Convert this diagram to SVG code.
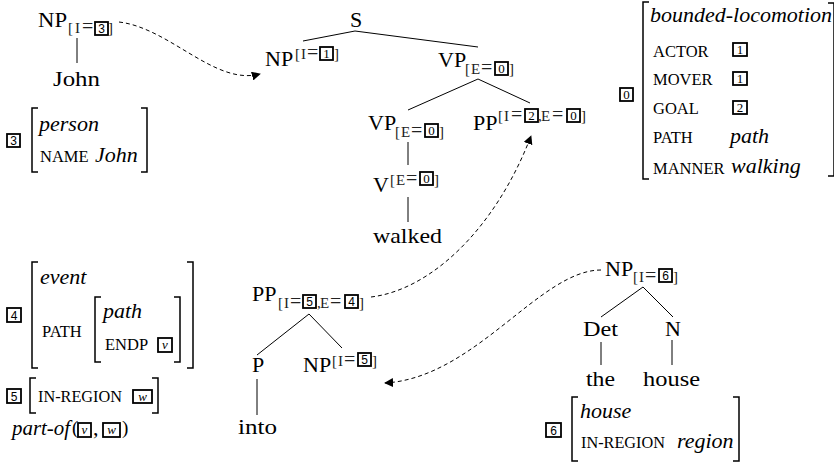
<svg xmlns="http://www.w3.org/2000/svg" width="834" height="462" viewBox="0 0 834 462">
<defs>
<style>
.n { font-family: "Liberation Serif", serif; font-size: 22px; fill: #000; }
.it { font-family: "Liberation Serif", serif; font-size: 22px; font-style: italic; fill: #000; }
.sc { font-family: "Liberation Serif", serif; font-size: 16.5px; fill: #000; }
.f { font-family: "Liberation Serif", serif; font-size: 15px; fill: #222; }
.eq { font-size: 20px; }
.bx { fill: none; stroke: #000; stroke-width: 1.8; }
.bn { font-family: "Liberation Sans", sans-serif; font-size: 12px; text-anchor: middle; fill: #000; }
.bs { font-family: "Liberation Serif", serif; font-size: 13px; text-anchor: middle; fill: #000; }
.bi { font-family: "Liberation Serif", serif; font-size: 13px; font-style: italic; text-anchor: middle; fill: #000; }
.tree { stroke: #000; stroke-width: 1; fill: none; }
.dash { stroke: #000; stroke-width: 1; fill: none; stroke-dasharray: 4 3; marker-end: url(#ah); }
.br { stroke: #000; stroke-width: 1.5; fill: none; }
</style>
<marker id="ah" viewBox="0 0 10 10" refX="9" refY="5" markerWidth="9" markerHeight="9" markerUnits="userSpaceOnUse" orient="auto">
<path d="M0,0 L10,5 L0,10 z" fill="#000"/>
</marker>
</defs>

<g id="connectors">
<line class="tree" x1="77" y1="38" x2="77" y2="63"/>
<line class="tree" x1="355" y1="31" x2="303" y2="41"/>
<line class="tree" x1="355" y1="31" x2="478" y2="47"/>
<line class="tree" x1="478" y1="79" x2="408" y2="110"/>
<line class="tree" x1="478" y1="79" x2="530" y2="103"/>
<line class="tree" x1="408" y1="142" x2="408" y2="165"/>
<line class="tree" x1="408" y1="197" x2="408" y2="222"/>
<line class="tree" x1="309" y1="314" x2="257" y2="355"/>
<line class="tree" x1="309" y1="314" x2="342" y2="348"/>
<line class="tree" x1="257" y1="379" x2="257" y2="415"/>
<line class="tree" x1="643" y1="287" x2="601" y2="317"/>
<line class="tree" x1="643" y1="287" x2="673" y2="317"/>
<line class="tree" x1="601" y1="342" x2="601" y2="365"/>
<line class="tree" x1="672" y1="340" x2="672" y2="365"/>
<path class="dash" d="M119 22 C170 28, 215 86, 260 74"/>
<path class="dash" d="M371 297 C430 290, 495 230, 531 136"/>
<path class="dash" d="M601 270 C540 270, 475 378, 385 383"/>
</g>

<g id="np3">
<text class="n" x="38" y="27" textLength="29" lengthAdjust="spacingAndGlyphs">NP</text>
<text class="f" y="33"><tspan x="68">[</tspan><tspan x="75">I</tspan><tspan x="82" class="eq">=</tspan></text>
<rect class="bx" x="95" y="22" width="13" height="13"/><text class="bn" x="101.5" y="32.8">3</text>
<text class="f" x="108" y="33">]</text>
</g>
<g id="john"><text class="n" x="53" y="86" textLength="47" lengthAdjust="spacingAndGlyphs">John</text></g>

<g id="s"><text class="n" x="350" y="27">S</text></g>
<g id="np1">
<text class="n" x="265" y="66">NP</text>
<text class="f" y="59"><tspan x="295">[</tspan><tspan x="301">I</tspan><tspan x="307" class="eq">=</tspan></text>
<rect class="bx" x="320" y="47" width="13" height="13"/><text class="bs" x="326.5" y="57.8">1</text>
<text class="f" x="334" y="59">]</text>
</g>
<g id="vp0">
<text class="n" x="438" y="67">VP</text>
<text class="f" y="74"><tspan x="465">[</tspan><tspan x="471">E</tspan><tspan x="481" class="eq">=</tspan></text>
<rect class="bx" x="495" y="62" width="13" height="13"/><text class="bs" x="501.5" y="72.8">0</text>
<text class="f" x="509" y="74">]</text>
</g>
<g id="vp1">
<text class="n" x="368" y="130">VP</text>
<text class="f" y="137"><tspan x="395">[</tspan><tspan x="401">E</tspan><tspan x="411" class="eq">=</tspan></text>
<rect class="bx" x="425" y="124" width="13" height="13"/><text class="bs" x="431.5" y="134.8">0</text>
<text class="f" x="439" y="137">]</text>
</g>
<g id="pp0">
<text class="n" x="473" y="130">PP</text>
<text class="f" y="121"><tspan x="498">[</tspan><tspan x="504">I</tspan><tspan x="511" class="eq">=</tspan></text>
<rect class="bx" x="525" y="109" width="13" height="13"/><text class="bs" x="531.5" y="119.8">2</text>
<text class="f" y="121"><tspan x="538">,</tspan><tspan x="541">E</tspan><tspan x="552" class="eq">=</tspan></text>
<rect class="bx" x="567" y="109" width="13" height="13"/><text class="bs" x="573.5" y="119.8">0</text>
<text class="f" x="581" y="121">]</text>
</g>
<g id="v">
<text class="n" x="373" y="192">V</text>
<text class="f" y="185"><tspan x="390">[</tspan><tspan x="396">E</tspan><tspan x="406" class="eq">=</tspan></text>
<rect class="bx" x="420" y="172" width="13" height="13"/><text class="bs" x="426.5" y="182.8">0</text>
<text class="f" x="434" y="185">]</text>
</g>
<g id="walked"><text class="n" x="373" y="243" textLength="69" lengthAdjust="spacingAndGlyphs">walked</text></g>

<g id="pp1">
<text class="n" x="252" y="301">PP</text>
<text class="f" y="308"><tspan x="278">[</tspan><tspan x="284">I</tspan><tspan x="290" class="eq">=</tspan></text>
<rect class="bx" x="303" y="295" width="13" height="13"/><text class="bn" x="309.5" y="305.8">5</text>
<text class="f" y="308"><tspan x="317">,</tspan><tspan x="320">E</tspan><tspan x="330" class="eq">=</tspan></text>
<rect class="bx" x="345" y="295" width="13" height="13"/><text class="bn" x="351.5" y="305.8">4</text>
<text class="f" x="359" y="308">]</text>
</g>
<g id="p"><text class="n" x="252" y="372">P</text></g>
<g id="np5">
<text class="n" x="303" y="372">NP</text>
<text class="f" y="366"><tspan x="332">[</tspan><tspan x="338">I</tspan><tspan x="344" class="eq">=</tspan></text>
<rect class="bx" x="358" y="353" width="13" height="13"/><text class="bn" x="364.5" y="363.8">5</text>
<text class="f" x="372" y="366">]</text>
</g>
<g id="into"><text class="n" x="238" y="434" textLength="39" lengthAdjust="spacingAndGlyphs">into</text></g>

<g id="np6">
<text class="n" x="605" y="276">NP</text>
<text class="f" y="282"><tspan x="633">[</tspan><tspan x="639">I</tspan><tspan x="645" class="eq">=</tspan></text>
<rect class="bx" x="659" y="269" width="13" height="13"/><text class="bn" x="665.5" y="279.8">6</text>
<text class="f" x="673" y="282">]</text>
</g>
<g id="det"><text class="n" x="583" y="336" textLength="35" lengthAdjust="spacingAndGlyphs">Det</text></g>
<g id="n"><text class="n" x="665" y="336">N</text></g>
<g id="the"><text class="n" x="586" y="386" textLength="29" lengthAdjust="spacingAndGlyphs">the</text></g>
<g id="house"><text class="n" x="643" y="386" textLength="57" lengthAdjust="spacingAndGlyphs">house</text></g>

<g id="avm0">
<rect class="bx" x="620" y="88" width="13" height="13"/><text class="bs" x="626.5" y="98.8">0</text>
<path class="br" d="M649 2 H643 V179 H649"/>
<path class="br" d="M828 3 H834 V176 H828"/>
<text class="it" x="650" y="22">bounded-locomotion</text>
<text class="sc" x="653" y="57">ACTOR</text>
<rect class="bx" x="733" y="43" width="14" height="13"/><text class="bs" x="740" y="53.8">1</text>
<text class="sc" x="653" y="85">MOVER</text>
<rect class="bx" x="733" y="72" width="14" height="13"/><text class="bs" x="740" y="82.8">1</text>
<text class="sc" x="653" y="114">GOAL</text>
<rect class="bx" x="733" y="101" width="14" height="13"/><text class="bs" x="740" y="111.8">2</text>
<text class="sc" x="653" y="143">PATH</text>
<text class="it" x="730" y="143">path</text>
<text class="sc" x="653" y="174">MANNER</text>
<text class="it" x="731" y="173">walking</text>
</g>

<g id="avm3">
<rect class="bx" x="7" y="134" width="13" height="13"/><text class="bn" x="13.5" y="144.8">3</text>
<path class="br" d="M38 108 H32 V172 H38"/>
<path class="br" d="M141 108 H147 V172 H141"/>
<text class="it" x="39" y="131">person</text>
<text class="sc" x="40" y="162">NAME</text>
<text class="it" x="95" y="162">John</text>
</g>

<g id="avm4">
<rect class="bx" x="7" y="308" width="14" height="14"/><text class="bn" x="14" y="319.5">4</text>
<path class="br" d="M38 262 H32 V368 H38"/>
<path class="br" d="M187 262 H193 V368 H187"/>
<text class="it" x="40" y="284">event</text>
<text class="sc" x="42" y="337">PATH</text>
<path class="br" d="M101 297 H95 V362 H101"/>
<path class="br" d="M174 297 H180 V362 H174"/>
<text class="it" x="103" y="318">path</text>
<text class="sc" x="105" y="350">ENDP</text>
<rect class="bx" x="158" y="338" width="14" height="14"/><text class="bi" x="165" y="349">v</text>
</g>

<g id="avm5">
<rect class="bx" x="7" y="389" width="14" height="14"/><text class="bn" x="14" y="400.5">5</text>
<path class="br" d="M36 378 H30 V413 H36"/>
<path class="br" d="M152 378 H158 V413 H152"/>
<text class="sc" x="38" y="402" textLength="84" lengthAdjust="spacingAndGlyphs">IN-REGION</text>
<rect class="bx" x="133" y="390" width="19" height="13"/><text class="bi" x="142.5" y="400.5">w</text>
</g>

<g id="partof">
<text class="it" x="12" y="435" textLength="58" lengthAdjust="spacingAndGlyphs">part-of</text>
<text class="n" x="72" y="434" style="font-size:19px">(</text>
<rect class="bx" x="78" y="423" width="13" height="14"/><text class="bi" x="84.5" y="434">v</text>
<text class="n" x="93" y="435">,</text>
<rect class="bx" x="103" y="423" width="17" height="14"/><text class="bi" x="111.5" y="434">w</text>
<text class="n" x="122" y="434" style="font-size:19px">)</text>
</g>

<g id="avm6">
<rect class="bx" x="546" y="423" width="15" height="14"/><text class="bn" x="553.5" y="434.5">6</text>
<path class="br" d="M578 397 H572 V461 H578"/>
<path class="br" d="M733 397 H739 V461 H733"/>
<text class="it" x="580" y="418">house</text>
<text class="sc" x="581" y="448" textLength="84" lengthAdjust="spacingAndGlyphs">IN-REGION</text>
<text class="it" x="677" y="448">region</text>
</g>
</svg>
